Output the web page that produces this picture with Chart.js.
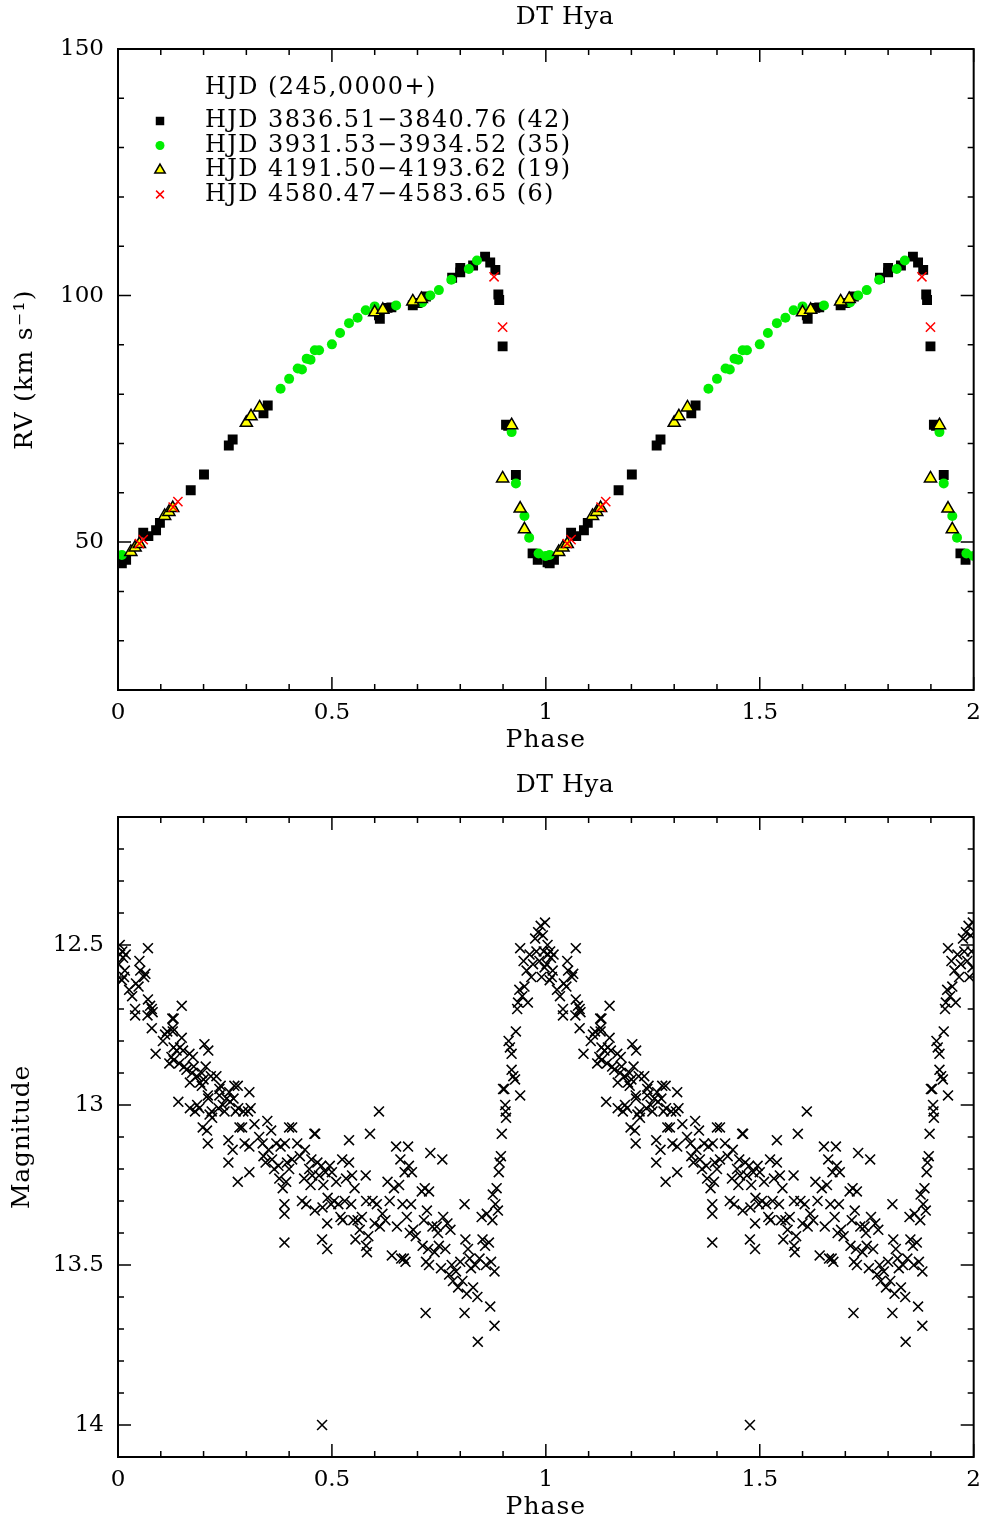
<!DOCTYPE html>
<html>
<head>
<meta charset="utf-8">
<script src="https://cdn.jsdelivr.net/npm/chart.js@4.4.1/dist/chart.umd.min.js"></script>
<style>
body { margin: 0; background: #fff; }
.box { position: absolute; left: 0; width: 990px; height: 760px; }
</style>
</head>
<body>
<div class="box" style="top:0"><canvas id="rvChart"></canvas></div>
<div class="box" style="top:766px"><canvas id="lcChart"></canvas></div>
<script>
// radial velocity, phase 0-1 (plotted twice)
const sqPhase = [0.004,0.009,0.019,0.059,0.071,0.089,0.098,0.170,0.201,0.259,0.268,0.340,0.350,0.610,0.612,0.630,0.639,0.689,0.700,0.720,0.781,0.800,0.800,0.830,0.858,0.870,0.882,0.889,0.891,0.899,0.907,0.912,0.930,0.969,0.981];
const sqRV = [45.9,45.7,46.4,51.9,51.2,52.4,53.9,60.5,63.7,69.6,70.8,76.1,77.7,96.0,95.3,97.5,97.6,98.0,98.5,99.8,103.6,105.6,104.7,106.1,107.9,106.7,105.2,100.2,99.1,89.7,73.8,73.6,63.6,47.7,46.4];

const dotPhase = [0.009,0.380,0.400,0.420,0.430,0.441,0.450,0.460,0.470,0.500,0.519,0.540,0.560,0.579,0.600,0.650,0.711,0.730,0.750,0.779,0.820,0.839,0.920,0.930,0.950,0.961,0.983,0.9995];
const dotRV = [47.4,81.1,83.1,85.2,85.0,87.2,87.0,88.9,88.9,90.1,92.4,94.4,95.5,97.0,97.8,98.0,98.6,100.0,101.1,103.2,105.4,107.1,72.3,61.9,55.3,50.9,47.7,47.2];

const triPhase = [0.030,0.040,0.050,0.109,0.119,0.128,0.300,0.311,0.331,0.600,0.619,0.689,0.709,0.899,0.920,0.940,0.950];
const triRV = [48.0,48.9,49.6,55.3,56.1,56.9,74.2,75.5,77.3,96.6,97.1,98.8,99.3,62.9,73.7,56.8,52.6];

const crossPhase = [0.050,0.059,0.129,0.140,0.879,0.899];
const crossRV = [49.7,50.5,57.1,58.2,103.8,93.6];

const legendHeader = 'HJD (245,0000+)';
const legendLabels = [
    'HJD 3836.51\u22123840.76 (42)',
    'HJD 3931.53\u22123934.52 (35)',
    'HJD 4191.50\u22124193.62 (19)',
    'HJD 4580.47\u22124583.65 (6)'
];

// light curve, phase 0-1 (plotted twice)
const lcPhase = [
    0.002,0.004,0.005,0.009,0.010,0.012,0.014,0.016,0.018,0.026,0.033,0.040,0.040,0.042,0.048,0.050,0.052,0.061,0.064,0.069,0.070,0.070,0.075,0.079,0.079,0.081,0.088,
    0.105,0.110,0.115,0.120,0.125,0.127,0.128,0.128,0.130,0.130,0.130,0.137,0.141,0.143,0.145,0.149,0.149,0.152,0.155,0.160,0.167,0.168,0.168,0.173,0.175,0.177,0.180,0.184,0.185,0.190,0.192,0.196,0.196,0.198,
    0.200,0.202,0.205,0.208,0.210,0.210,0.211,0.211,0.214,0.217,0.219,0.220,0.230,0.235,0.237,0.237,0.240,0.245,0.249,0.254,0.258,0.258,0.260,0.262,0.268,0.270,0.272,0.275,0.280,0.280,0.281,0.284,0.290,0.293,0.296,
    0.304,0.307,0.307,0.307,0.310,0.319,0.330,0.338,0.340,0.345,0.349,0.352,0.358,0.360,0.365,0.370,0.375,0.377,0.380,0.385,0.389,0.389,0.389,0.390,0.393,0.395,
    0.400,0.400,0.407,0.407,0.419,0.425,0.430,0.435,0.437,0.440,0.447,0.450,0.452,0.454,0.459,0.460,0.461,0.466,0.470,0.475,0.477,0.477,0.478,0.480,0.485,0.489,0.489,0.490,0.495,0.498,
    0.500,0.505,0.510,0.515,0.520,0.524,0.525,0.530,0.533,0.540,0.540,0.545,0.547,0.550,0.553,0.555,0.560,0.565,0.570,0.579,0.580,0.580,0.582,0.585,0.589,0.595,
    0.600,0.605,0.610,0.612,0.618,0.625,0.630,0.635,0.640,0.645,0.650,0.652,0.657,0.660,0.662,0.665,0.668,0.670,0.672,0.675,0.678,0.680,0.682,0.685,0.687,0.690,0.696,
    0.710,0.712,0.715,0.717,0.719,0.720,0.722,0.725,0.727,0.727,0.730,0.735,0.740,0.745,0.748,0.750,0.755,0.758,0.760,0.765,0.770,0.774,0.777,0.780,0.783,0.790,0.795,
    0.800,0.805,0.810,0.810,0.812,0.815,0.818,0.822,0.825,0.830,0.835,0.840,0.841,0.845,0.850,0.852,0.858,0.860,0.862,0.867,0.870,0.872,0.875,0.876,0.880,0.880,0.882,0.885,0.888,0.890,0.892,0.895,0.897,
    0.900,0.903,0.905,0.906,0.907,0.913,0.916,0.920,0.920,0.924,0.928,0.930,0.933,0.935,0.938,0.940,0.940,0.945,0.948,0.950,0.955,0.958,0.962,0.966,0.970,0.975,0.978,0.982,0.985,0.988,0.990,0.993,0.995,0.997,0.998
];
const lcMag = [
    12.56,12.50,12.53,12.61,12.52,12.54,12.60,12.58,12.53,12.64,12.66,12.70,12.72,12.62,12.63,12.55,12.58,12.60,12.59,12.72,12.51,12.67,12.69,12.70,12.76,12.71,12.84,
    12.80,12.78,12.77,12.87,12.85,12.73,12.76,12.77,12.73,12.86,12.82,12.83,12.99,12.87,12.82,12.69,12.79,12.83,12.88,12.89,12.84,12.93,13.01,12.90,12.85,12.88,13.02,12.91,13.00,13.01,12.93,12.90,12.94,13.07,
    12.92,12.81,12.88,13.08,12.97,13.12,12.83,12.98,13.03,12.91,13.02,13.04,12.91,13.01,12.95,12.97,12.94,13.00,13.02,12.98,13.11,13.18,12.96,12.99,13.14,12.98,12.94,13.02,12.94,13.24,13.01,13.07,13.07,13.02,13.12,
    13.02,12.96,13.13,13.21,13.01,13.06,13.10,13.12,13.16,13.18,13.05,13.14,13.08,13.17,13.20,13.12,13.19,13.23,13.13,13.26,13.31,13.34,13.43,13.12,13.24,13.18,
    13.07,13.20,13.07,13.17,13.12,13.16,13.30,13.23,13.14,13.31,13.20,13.25,13.17,13.22,13.09,13.33,13.09,13.18,13.22,13.19,13.42,14.00,13.32,13.25,13.21,13.37,13.45,13.29,13.19,13.31,
    13.21,13.30,13.24,13.31,13.35,13.17,13.36,13.30,13.23,13.11,13.18,13.31,13.22,13.36,13.26,13.42,13.36,13.39,13.35,13.22,13.30,13.44,13.46,13.41,13.09,13.30,
    13.37,13.31,13.02,13.38,13.34,13.36,13.24,13.30,13.47,13.26,13.13,13.38,13.25,13.17,13.48,13.31,13.48,13.21,13.49,13.35,13.13,13.19,13.40,13.31,13.21,13.39,13.41,
    13.27,13.44,13.36,13.26,13.65,13.49,13.33,13.45,13.27,13.50,13.15,13.38,13.46,13.38,13.40,13.44,13.51,13.17,13.35,13.45,13.37,13.53,13.39,13.50,13.55,13.52,13.57,
    13.49,13.55,13.31,13.65,13.42,13.59,13.45,13.48,13.51,13.57,13.50,13.60,13.74,13.48,13.35,13.42,13.44,13.50,13.34,13.43,13.63,13.49,13.36,13.28,13.69,13.52,13.31,13.26,13.33,13.21,13.18,13.16,13.09,
    12.95,12.95,13.00,13.02,13.04,12.80,12.82,12.84,12.89,12.91,12.92,12.77,12.70,12.68,12.64,12.97,12.51,12.66,12.55,12.63,12.58,12.68,12.53,12.60,12.56,12.48,12.52,12.46,12.55,12.44,12.60,12.47,12.52,12.57,12.43
];

const FONT = "'DejaVu Serif', serif";
Chart.defaults.font.family = FONT;
Chart.defaults.color = '#000';

// every point is shown at phase p and again at p + 1
function fold(phases, values) {
    const pts = [];
    for (let k = 0; k < 2; k++) {
        phases.forEach((p, i) => pts.push({ x: p + k, y: values[i] }));
    }
    return pts;
}

function onStep(v, step) {
    const r = v / step;
    return Math.abs(r - Math.round(r)) < 1e-6;
}

function label(v, step) {
    return onStep(v, step) ? String(+v.toFixed(1)) : '';
}

// box with inward ticks on all sides, titles and the legend
const framePlugin = {
    id: 'frame',
    afterDraw(chart, args, opts) {
        const ctx = chart.ctx;
        const a = chart.chartArea;
        const xs = chart.scales.x, ys = chart.scales.y;
        ctx.save();
        ctx.strokeStyle = '#000';
        ctx.lineWidth = 1.5;
        ctx.beginPath();
        xs.ticks.forEach(t => {
            const px = xs.getPixelForValue(t.value);
            const len = onStep(t.value, 0.5) ? 13 : 6;
            ctx.moveTo(px, a.bottom); ctx.lineTo(px, a.bottom - len);
            ctx.moveTo(px, a.top); ctx.lineTo(px, a.top + len);
        });
        ys.ticks.forEach(t => {
            const py = ys.getPixelForValue(t.value);
            const len = onStep(t.value, opts.yMajor) ? 13 : 6;
            ctx.moveTo(a.left, py); ctx.lineTo(a.left + len, py);
            ctx.moveTo(a.right, py); ctx.lineTo(a.right - len, py);
        });
        ctx.stroke();
        ctx.lineWidth = 2;
        ctx.strokeRect(a.left, a.top, a.right - a.left, a.bottom - a.top);

        ctx.fillStyle = '#000';
        ctx.textAlign = 'center';
        ctx.textBaseline = 'middle';
        ctx.font = '25px ' + FONT;
        ctx.letterSpacing = '0.5px';
        ctx.fillText(opts.title, 565, opts.titleY);
        ctx.letterSpacing = '1px';
        ctx.fillText('Phase', (a.left + a.right) / 2, a.bottom + 50);
        ctx.save();
        ctx.translate(opts.yTitleX, (a.top + a.bottom) / 2);
        ctx.rotate(-Math.PI / 2);
        ctx.letterSpacing = opts.yTitleSpacing;
        ctx.fillText(opts.yTitle, 0, 0);
        ctx.restore();

        if (opts.legend) {
            ctx.font = '24px ' + FONT;
            ctx.letterSpacing = '1.4px';
            ctx.textAlign = 'left';
            ctx.fillText(legendHeader, 205, 88);
            chart.data.datasets.forEach((ds, i) => {
                const y = 121 + i * 24.5;
                ctx.fillStyle = ds.backgroundColor;
                ctx.strokeStyle = ds.borderColor;
                ctx.lineWidth = ds.borderWidth;
                Chart.helpers.drawPoint(ctx, {
                    pointStyle: ds.pointStyle,
                    radius: ds.legendRadius,
                    rotation: 0,
                    borderWidth: ds.borderWidth
                }, 160, y);
                ctx.fillStyle = '#000';
                ctx.fillText(legendLabels[i], 205, y);
            });
        }
        ctx.restore();
    }
};

function axes(yMin, yMax, yStep, yMajor, reverse, xHeight) {
    return {
        x: {
            type: 'linear', min: 0, max: 2,
            grid: { display: false, drawTicks: false },
            border: { display: false },
            ticks: {
                stepSize: 0.1, autoSkip: false, maxRotation: 0, padding: 9,
                font: { size: 23 },
                callback: v => label(v, 0.5)
            },
            afterFit: s => { s.height = xHeight; }
        },
        y: {
            type: 'linear', min: yMin, max: yMax, reverse: reverse,
            grid: { display: false, drawTicks: false },
            border: { display: false },
            ticks: {
                stepSize: yStep, autoSkip: false, padding: 14,
                font: { size: 23 },
                callback: v => label(v, yMajor)
            },
            afterFit: s => { s.width = 118; }
        }
    };
}

new Chart(document.getElementById('rvChart'), {
    type: 'scatter',
    data: {
        datasets: [
            { data: fold(sqPhase, sqRV), pointStyle: 'rect', pointRadius: 7, legendRadius: 6,
              backgroundColor: '#000', borderColor: '#000', borderWidth: 0, order: 4 },
            { data: fold(dotPhase, dotRV), pointStyle: 'circle', pointRadius: 5, legendRadius: 4.5,
              backgroundColor: '#00ee00', borderColor: '#00ee00', borderWidth: 0, order: 3 },
            { data: fold(triPhase, triRV), pointStyle: 'triangle', pointRadius: 7, legendRadius: 6,
              backgroundColor: '#ffff00', borderColor: '#000', borderWidth: 1.5, order: 2 },
            { data: fold(crossPhase, crossRV), pointStyle: 'crossRot', pointRadius: 6.5, legendRadius: 5.5,
              backgroundColor: '#ff0000', borderColor: '#ff0000', borderWidth: 1.5, order: 1 }
        ]
    },
    options: {
        responsive: true,
        maintainAspectRatio: false,
        animation: false,
        layout: { padding: { top: 49, right: 13, left: 0, bottom: 0 } },
        scales: axes(20, 150, 10, 50, false, 70),
        plugins: {
            legend: { display: false },
            tooltip: { enabled: false },
            frame: { title: 'DT Hya', titleY: 17, yTitle: 'RV (km s\u207B\u00B9)', yTitleX: 25,
                     yTitleSpacing: '1.3px', yMajor: 50, legend: true }
        }
    },
    plugins: [framePlugin]
});

new Chart(document.getElementById('lcChart'), {
    type: 'scatter',
    data: {
        datasets: [
            { data: fold(lcPhase, lcMag), pointStyle: 'crossRot', pointRadius: 7,
              backgroundColor: '#000', borderColor: '#000', borderWidth: 1.6 }
        ]
    },
    options: {
        responsive: true,
        maintainAspectRatio: false,
        animation: false,
        layout: { padding: { top: 51, right: 13, left: 0, bottom: 0 } },
        scales: axes(12.1, 14.1, 0.1, 0.5, true, 69),
        plugins: {
            legend: { display: false },
            tooltip: { enabled: false },
            frame: { title: 'DT Hya', titleY: 19, yTitle: 'Magnitude', yTitleX: 22,
                     yTitleSpacing: '0.7px', yMajor: 0.5, legend: false }
        }
    },
    plugins: [framePlugin]
});
</script>
</body>
</html>
